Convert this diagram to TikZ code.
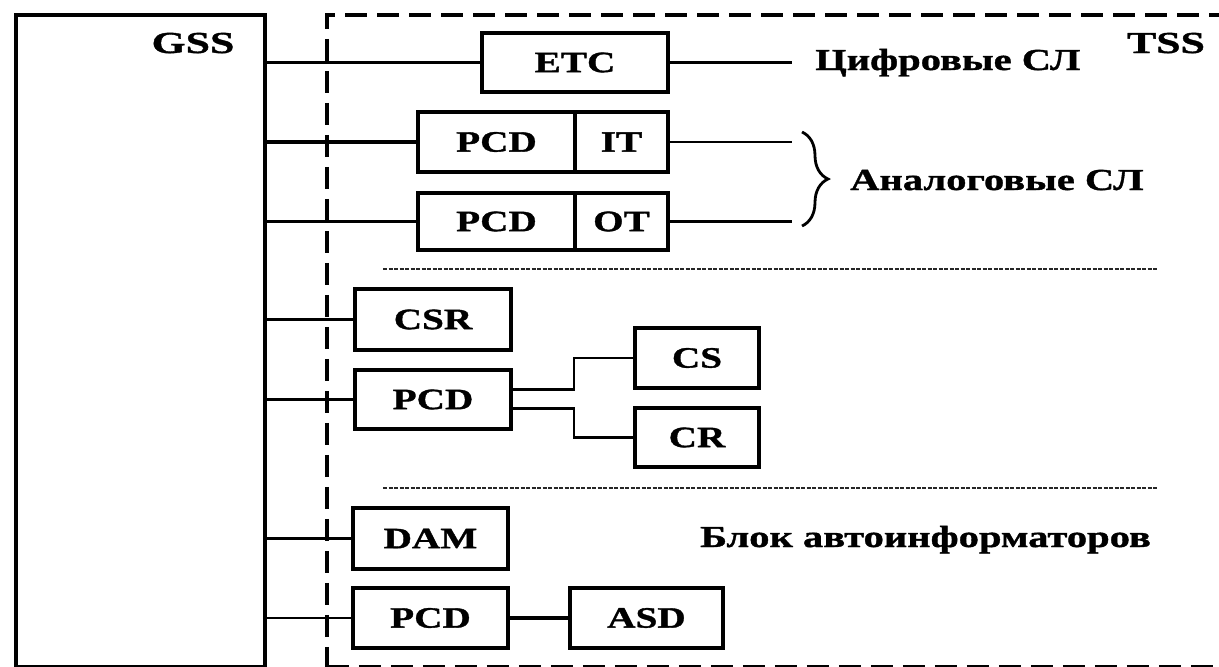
\documentclass[tikz,border=0pt]{standalone}
\usepackage{fontspec}
\setmainfont{Liberation Serif}[FakeStretch=1.33, BoldFeatures={FakeBold=1.2}]
\usetikzlibrary{decorations.pathreplacing}

\begin{document}
\begin{tikzpicture}[x=1pt,y=-1pt,
  txt/.style={font=\fontsize{29.5}{32}\selectfont\bfseries},
  bigtxt/.style={font=\fontsize{30.5}{34}\selectfont\bfseries},
  box/.style={draw, line width=3.3pt, inner sep=0pt, txt},
  lbl/.style={inner sep=0pt, bigtxt},
  wire/.style={line width=3.2pt},
  thinwire/.style={line width=2.3pt},
  zone/.style={draw, line width=3.8pt, dash pattern=on 22pt off 10pt, inner sep=0pt},
  divider/.style={line width=2pt, dash pattern=on 4pt off 1.5pt, black!85}]

\useasboundingbox (0,0) rectangle (1219,667);
\clip (0,0) rectangle (1219,667);

% main switching system and transit subsystem frames
\node[draw, line width=4pt, inner sep=0pt, minimum width=249, minimum height=652, anchor=north west] (gss) at (14,13) {};
\node[zone, minimum width=910, minimum height=652, anchor=north west] (tss) at (325,13) {};
\node[lbl, anchor=base, xscale=1.08] (gsslbl) at (193,53) {GSS};
\node[lbl, anchor=base, xscale=1.08] (tsslbl) at (1166,53) {TSS};

% trunk line units
\node[box, minimum width=186, minimum height=59] (etc) at (575,62.5) {ETC};
\node[box, minimum width=157, minimum height=60] (pcdA) at (496.5,142) {PCD};
\node[box, minimum width=93, minimum height=60] (it) at (621.5,142) {IT};
\node[box, minimum width=157, minimum height=57] (pcdB) at (496.5,221.5) {PCD};
\node[box, minimum width=93, minimum height=57] (ot) at (621.5,221.5) {OT};

% signalling units
\node[box, minimum width=156, minimum height=61] (csr) at (433,319.5) {CSR};
\node[box, minimum width=156, minimum height=59] (pcdC) at (433,399.5) {PCD};
\node[box, minimum width=124, minimum height=60] (cs) at (697,358) {CS};
\node[box, minimum width=124, minimum height=59] (cr) at (697,437.5) {CR};

% announcement units
\node[box, minimum width=155, minimum height=61] (dam) at (430.5,538.5) {DAM};
\node[box, minimum width=155, minimum height=60] (pcdD) at (430.5,618) {PCD};
\node[box, minimum width=153, minimum height=60] (asd) at (646.5,618) {ASD};

% right-hand labels
\node[lbl, anchor=base west] (dig) at (815,70) {Цифровые СЛ};
\node[lbl, anchor=base west] (ana) at (850,190) {Аналоговые СЛ};
\node[lbl, anchor=base west] (blk) at (700,547) {Блок автоинформаторов};

% free ends of the outgoing lines
\coordinate (etcEnd) at (792,62.5);
\coordinate (itEnd) at (792,142);
\coordinate (otEnd) at (792,221.5);
\coordinate (braceTop) at (802,132);
\coordinate (braceBot) at (802,226);

% links from GSS
\draw[wire] (gss.east |- etc.west) -- (etc.west);
\draw[wire] (gss.east |- pcdA.west) -- (pcdA.west);
\draw[thinwire] (gss.east |- pcdB.west) -- (pcdB.west);
\draw[wire] (gss.east |- csr.west) -- (csr.west);
\draw[thinwire] (gss.east |- pcdC.west) -- (pcdC.west);
\draw[wire] (gss.east |- dam.west) -- (dam.west);
\draw[thinwire] (gss.east |- pcdD.west) -- (pcdD.west);

% outgoing lines
\draw[wire] (etc.east) -- (etcEnd);
\draw[thinwire] (it.east) -- (itEnd);
\draw[wire] (ot.east) -- (otEnd);
\draw[line width=2.8pt, decorate, decoration={brace, amplitude=26pt}] (braceTop) -- (braceBot);

% PCD to sender / receiver
\draw[thinwire] ([yshift=10pt]pcdC.east) -- ++(61,0) |- (cs.west);
\draw[thinwire] ([yshift=-9pt]pcdC.east) -- ++(61,0) |- (cr.west);
\draw[wire] (pcdD) -- (asd);

% section separators
\draw[divider] (383,269) -- (1158,269);
\draw[divider] (383,488) -- (1158,488);
\end{tikzpicture}
\end{document}
